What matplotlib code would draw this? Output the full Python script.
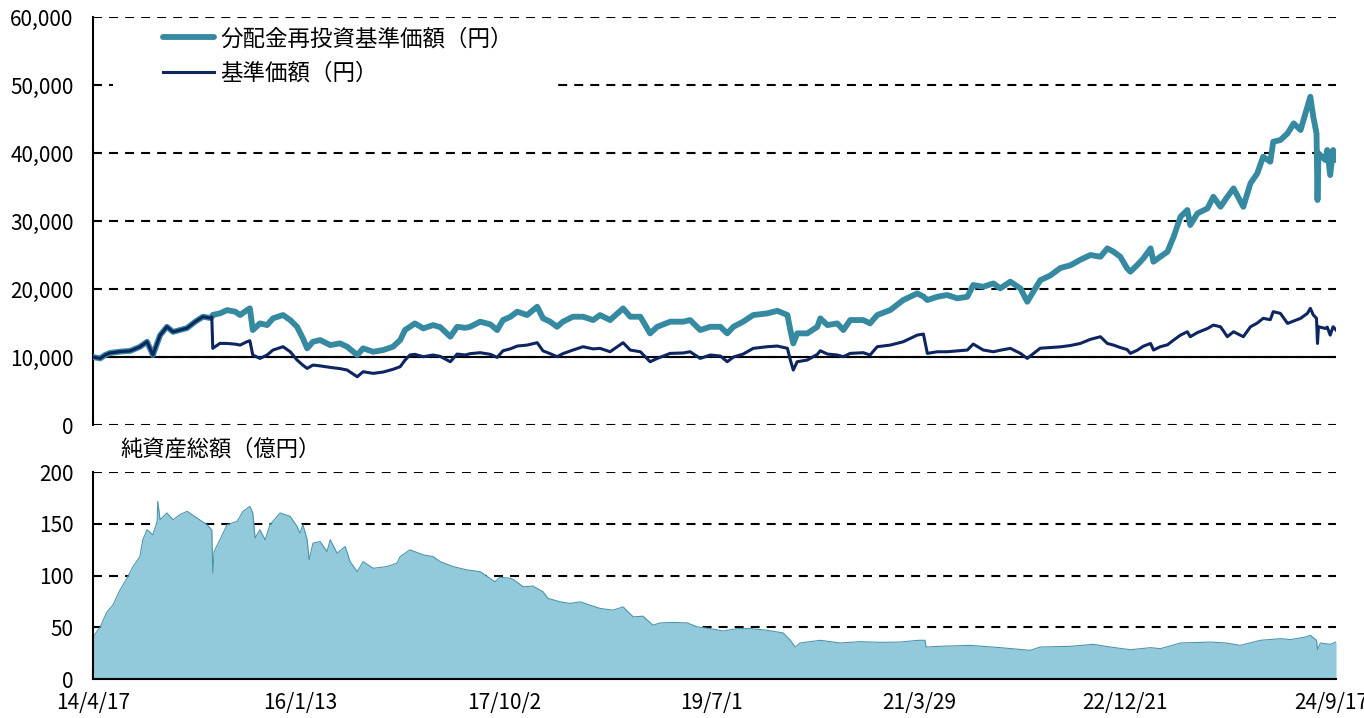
import pandas as pd
import matplotlib
matplotlib.use('Agg')
import matplotlib.pyplot as plt
from matplotlib.ticker import FuncFormatter
from matplotlib.patches import Rectangle

plt.rcParams['font.family'] = ['Noto Sans CJK JP', 'DejaVu Sans']

# price series
price_dates = [
    '2014-04-17', '2014-05-09', '2014-05-24', '2014-06-08', '2014-07-09', '2014-08-09', '2014-09-08',
    '2014-09-30', '2014-10-18', '2014-11-09', '2014-11-30', '2014-12-19', '2015-01-09', '2015-01-31',
    '2015-02-25', '2015-03-21', '2015-04-12', '2015-04-17', '2015-04-20', '2015-05-12', '2015-06-03',
    '2015-06-28', '2015-07-13', '2015-08-03', '2015-08-12', '2015-08-21', '2015-09-12', '2015-10-04',
    '2015-10-22', '2015-11-22', '2015-12-14', '2016-01-04', '2016-01-22', '2016-02-04', '2016-02-22',
    '2016-03-15', '2016-04-15', '2016-05-15', '2016-06-06', '2016-07-07', '2016-07-25', '2016-08-25',
    '2016-09-25', '2016-10-25', '2016-11-16', '2016-12-01', '2016-12-16', '2016-12-31', '2017-01-26',
    '2017-02-25', '2017-03-19', '2017-04-19', '2017-05-10', '2017-06-04', '2017-06-19', '2017-07-20',
    '2017-08-20', '2017-09-10', '2017-09-28', '2017-10-20', '2017-11-11', '2017-12-11', '2018-01-11',
    '2018-01-29', '2018-02-20', '2018-03-13', '2018-03-31', '2018-05-01', '2018-06-01', '2018-07-02',
    '2018-07-23', '2018-08-23', '2018-10-02', '2018-10-24', '2018-11-24', '2018-12-24', '2019-01-15',
    '2019-02-24', '2019-04-05', '2019-04-26', '2019-05-27', '2019-06-27', '2019-07-28', '2019-08-18',
    '2019-09-06', '2019-10-06', '2019-11-06', '2019-12-19', '2020-01-19', '2020-02-19', '2020-02-28',
    '2020-03-08', '2020-03-20', '2020-04-20', '2020-05-21', '2020-05-30', '2020-06-21', '2020-07-21',
    '2020-08-09', '2020-08-30', '2020-10-09', '2020-10-30', '2020-11-21', '2020-12-31', '2021-02-09',
    '2021-03-24', '2021-04-12', '2021-04-24', '2021-05-25', '2021-06-24', '2021-07-25', '2021-08-25',
    '2021-09-12', '2021-10-13', '2021-11-13', '2021-12-04', '2022-01-04', '2022-02-04', '2022-02-25',
    '2022-04-06', '2022-05-07', '2022-06-07', '2022-07-08', '2022-08-07', '2022-09-07', '2022-10-08',
    '2022-10-29', '2022-11-17', '2022-12-08', '2022-12-29', '2023-01-08', '2023-01-29', '2023-02-17',
    '2023-03-11', '2023-03-20', '2023-04-10', '2023-05-02', '2023-05-21', '2023-06-11', '2023-07-02',
    '2023-07-11', '2023-08-02', '2023-09-02', '2023-09-20', '2023-10-12', '2023-11-02', '2023-11-21',
    '2023-12-21', '2024-01-12', '2024-02-02', '2024-02-20', '2024-03-13', '2024-03-22', '2024-04-13',
    '2024-05-05', '2024-05-24', '2024-06-14', '2024-07-05', '2024-07-14', '2024-07-23', '2024-08-02',
    '2024-08-05', '2024-08-08', '2024-08-29', '2024-09-04', '2024-09-13', '2024-09-22', '2024-10-01',
]
nav_reinvested = [
    10000, 9800, 10300, 10600, 10800, 10900, 11500,
    12250, 10300, 13200, 14450, 13700, 13970, 14260,
    15200, 15930, 15740, 15900, 16200, 16420, 16900,
    16670, 16180, 16900, 17160, 13970, 14950, 14700,
    15690, 16180, 15440, 14450, 12750, 11280, 12250,
    12500, 11760, 12010, 11520, 10300, 11280, 10780,
    11030, 11520, 12500, 14000, 14450, 14950, 14210,
    14700, 14400, 12990, 14450, 14300, 14450, 15200,
    14800, 13970, 15440, 15900, 16670, 16180, 17400,
    15690, 15200, 14450, 15200, 15930, 15930, 15440,
    16180, 15440, 17160, 15930, 15930, 13480, 14450,
    15200, 15200, 15440, 13970, 14450, 14450, 13480,
    14450, 15200, 16180, 16420, 16800, 16180, 13970,
    12000, 13480, 13480, 14450, 15690, 14700, 14950,
    13970, 15440, 15440, 14950, 16180, 16910, 18380,
    19360, 18900, 18380, 18870, 19120, 18630, 18870,
    20590, 20340, 20830, 20100, 21080, 20100, 18130,
    21300, 22000, 23100, 23500, 24300, 25000, 24750,
    25980, 25490, 24750, 23040, 22550, 23530, 24510,
    25980, 24020, 24750, 25490, 27690, 30630, 31620,
    29410, 31120, 31860, 33570, 32100, 33570, 34800,
    32100, 35540, 37010, 39460, 38720, 41660, 41910,
    42890, 44360, 43380, 46810, 48280, 45340, 42890,
    33090, 39950, 38970, 40440, 36760, 40440, 38970,
]
nav_price = [
    10000, 9800, 10300, 10600, 10800, 10900, 11500,
    12250, 10300, 13200, 14450, 13700, 13970, 14260,
    15200, 15930, 15740, 15900, 11280, 12010, 12000,
    11900, 11760, 12250, 12400, 10300, 9800, 10300,
    11030, 11520, 10780, 9560, 8800, 8330, 8820,
    8700, 8480, 8300, 8090, 7100, 7840, 7600,
    7800, 8200, 8580, 9560, 10300, 10400, 10050,
    10300, 10100, 9310, 10440, 10300, 10500, 10640,
    10400, 9950, 10930, 11200, 11620, 11760, 12110,
    10900, 10500, 10050, 10500, 11030, 11520, 11200,
    11280, 10780, 12110, 11030, 10780, 9310, 9800,
    10540, 10600, 10780, 9800, 10300, 10150, 9310,
    10000, 10440, 11280, 11520, 11620, 11280, 9560,
    8090, 9310, 9560, 10400, 10930, 10440, 10300,
    10050, 10540, 10640, 10300, 11520, 11760, 12250,
    13230, 13380, 10540, 10780, 10780, 10900, 11030,
    11910, 11030, 10780, 11000, 11280, 10540, 9800,
    11300, 11400, 11500, 11700, 12000, 12600, 12990,
    12000, 11760, 11400, 11100, 10540, 11000, 11600,
    12000, 11030, 11520, 11800, 12500, 13230, 13720,
    12990, 13600, 14200, 14700, 14450, 13000, 13720,
    12990, 14450, 15000, 15690, 15500, 16670, 16420,
    14950, 15300, 15690, 16420, 17160, 16200, 15690,
    12000, 14450, 14210, 14400, 13230, 14450, 13970,
]

# net assets, 100 million yen
aum_dates = [
    '2014-04-17', '2014-05-09', '2014-05-30', '2014-06-17', '2014-07-09', '2014-07-30', '2014-08-18',
    '2014-09-08', '2014-09-17', '2014-09-30', '2014-10-18', '2014-10-31', '2014-11-02', '2014-11-09',
    '2014-11-30', '2014-12-19', '2015-01-09', '2015-01-31', '2015-03-02', '2015-04-02', '2015-04-17',
    '2015-04-20', '2015-04-24', '2015-05-12', '2015-06-03', '2015-07-04', '2015-07-22', '2015-08-12',
    '2015-08-21', '2015-08-28', '2015-09-12', '2015-09-28', '2015-10-13', '2015-11-13', '2015-12-14',
    '2016-01-04', '2016-01-13', '2016-01-22', '2016-02-04', '2016-02-10', '2016-02-22', '2016-03-15',
    '2016-04-05', '2016-04-15', '2016-05-06', '2016-05-31', '2016-06-15', '2016-07-07', '2016-07-25',
    '2016-08-25', '2016-10-06', '2016-11-06', '2016-11-16', '2016-12-16', '2017-01-26', '2017-02-25',
    '2017-03-19', '2017-04-28', '2017-06-09', '2017-07-20', '2017-09-03', '2017-09-19', '2017-10-20',
    '2017-10-29', '2017-11-29', '2017-12-29', '2018-01-29', '2018-02-13', '2018-03-22', '2018-04-22',
    '2018-05-23', '2018-06-22', '2018-07-23', '2018-09-01', '2018-10-02', '2018-11-02', '2018-12-02',
    '2019-01-02', '2019-01-24', '2019-03-05', '2019-04-17', '2019-05-18', '2019-06-27', '2019-08-05',
    '2019-09-18', '2019-10-28', '2019-12-19', '2020-02-06', '2020-02-28', '2020-03-14', '2020-03-29',
    '2020-05-30', '2020-07-31', '2020-09-30', '2020-11-30', '2021-01-31', '2021-03-27', '2021-04-17',
    '2021-04-20', '2021-06-02', '2021-09-03', '2021-12-04', '2022-03-06', '2022-04-06', '2022-07-08',
    '2022-09-16', '2022-11-07', '2023-01-08', '2023-03-11', '2023-04-10', '2023-06-11', '2023-09-12',
    '2023-10-28', '2023-12-12', '2024-02-12', '2024-04-13', '2024-05-14', '2024-06-30', '2024-07-14',
    '2024-08-02', '2024-08-05', '2024-08-14', '2024-09-13', '2024-10-01',
]
aum = [
    40.6, 50.3, 64.9, 71.4, 85.9, 97.3, 108.6,
    118.3, 134.5, 144.2, 139.3, 152.3, 171.7, 153.9,
    160.4, 153.9, 158.8, 162.0, 155.6, 149.1, 144.2,
    102.2, 123.1, 134.5, 149.1, 152.3, 162.0, 166.8,
    160.4, 136.1, 144.2, 134.5, 149.1, 160.4, 157.1,
    147.4, 141.0, 149.1, 134.5, 115.1, 131.3, 132.8,
    123.1, 134.5, 121.6, 128.0, 113.4, 103.7, 113.4,
    107.0, 108.6, 111.9, 118.3, 124.8, 119.9, 118.3,
    113.4, 108.6, 105.4, 103.7, 94.0, 98.3, 97.3,
    96.3, 89.1, 89.8, 84.3, 77.9, 74.6, 73.0,
    74.6, 71.4, 68.2, 66.5, 69.7, 60.0, 60.7,
    52.0, 54.2, 54.6, 54.2, 50.3, 48.7, 46.4,
    48.7, 48.7, 47.1, 44.5, 37.4, 30.9, 34.8,
    37.4, 34.8, 36.1, 35.4, 35.7, 37.4, 37.4,
    30.9, 31.6, 32.5, 30.3, 27.7, 30.9, 31.6,
    33.5, 30.9, 28.3, 30.3, 29.3, 34.8, 35.7,
    34.8, 32.5, 37.4, 39.0, 38.1, 40.6, 42.2,
    37.4, 28.3, 34.8, 33.5, 35.7,
]

tick_dates = ['2014-04-17', '2016-01-13', '2017-10-02', '2019-07-01', '2021-03-29', '2022-12-21', '2024-09-17']
tick_labels = ['14/4/17', '16/1/13', '17/10/2', '19/7/1', '21/3/29', '22/12/21', '24/9/17']

price_d = pd.to_datetime(price_dates)
aum_d = pd.to_datetime(aum_dates)
ticks = pd.to_datetime(tick_dates)
x0, x1 = pd.Timestamp('2014-04-17'), pd.Timestamp('2024-10-01')

teal = '#3589A0'
navy = '#0D2560'
dash = (0, (4.3, 3.4))

fig = plt.figure(figsize=(13.64, 7.18), dpi=100)
ax = fig.add_axes([0.0682, 0.408, 0.9113, 0.5683])
ax2 = fig.add_axes([0.0682, 0.0543, 0.9113, 0.2883])

# top panel
ax.set_xlim(x0, x1)
ax.set_ylim(0, 60000)
ax.set_yticks(range(0, 60001, 10000))
ax.yaxis.set_major_formatter(FuncFormatter(lambda v, p: f'{v:,.0f}'))
ax.yaxis.grid(True, color='black', linestyle=dash, linewidth=1.5)
ax.set_xticks([])
for s in ['top', 'right', 'bottom']:
    ax.spines[s].set_visible(False)
ax.spines['left'].set_linewidth(1.5)
ax.tick_params(axis='y', length=0, pad=14, labelsize=15)
ax.axhline(10000, color='black', lw=1.5, zorder=2)
ax.add_patch(Rectangle((0.016, 0.80), 0.356, 0.18, transform=ax.transAxes,
                       facecolor='white', edgecolor='none', zorder=2))

ax.plot(price_d, nav_reinvested, color=teal, lw=4.2, solid_capstyle='round',
        solid_joinstyle='round', label='分配金再投資基準価額（円）', zorder=3)
ax.plot(price_d, nav_price, color=navy, lw=2.2, solid_joinstyle='round',
        label='基準価額（円）', zorder=4)
leg = ax.legend(loc='upper left', bbox_to_anchor=(0.056, 0.975), frameon=False,
                fontsize=16.2, handlelength=2.3, handletextpad=0.25,
                labelspacing=0.5, borderpad=0, borderaxespad=0)

# bottom panel
ax2.set_xlim(x0, x1)
ax2.set_ylim(0, 200)
ax2.set_yticks(range(0, 201, 50))
ax2.yaxis.grid(True, color='black', linestyle=dash, linewidth=1.5)
ax2.fill_between(aum_d, aum, color='#93CADB', lw=0, zorder=2)
ax2.plot(aum_d, aum, color='#4A95AC', lw=0.8, zorder=3)
for s in ['top', 'right']:
    ax2.spines[s].set_visible(False)
ax2.spines['left'].set_linewidth(1.5)
ax2.spines['bottom'].set_linewidth(1.5)
ax2.spines['left'].set_zorder(4)
ax2.spines['bottom'].set_zorder(4)
ax2.set_xticks(ticks)
ax2.set_xticklabels(tick_labels)
ax2.tick_params(axis='x', direction='in', length=7, width=1.5, pad=9, labelsize=15)
ax2.tick_params(axis='y', length=0, pad=14, labelsize=15)
ax2.text(0.0217, 1.11, '純資産総額（億円）', transform=ax2.transAxes,
         ha='left', va='center', fontsize=16)

fig.savefig('out.png', dpi=100)
